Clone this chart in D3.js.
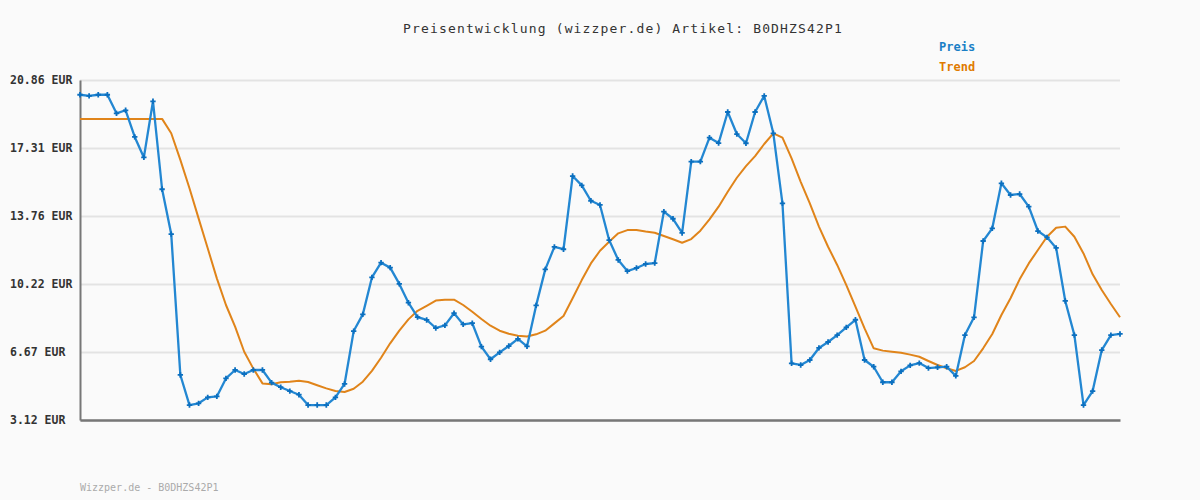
<!DOCTYPE html>
<html>
<head>
<meta charset="utf-8">
<script src="https://cdn.jsdelivr.net/npm/d3@7/dist/d3.min.js"></script>
<style>
  html, body { margin: 0; padding: 0; background: #fafafa; }
  svg { display: block; }
  text { font-family: "DejaVu Sans Mono", monospace; }
</style>
</head>
<body>
<svg id="chart" width="1200" height="500"></svg>
<script>
const title = "Preisentwicklung (wizzper.de) Artikel: B0DHZS42P1";
const footer = "Wizzper.de - B0DHZS42P1";
const seriesNames = ["Preis", "Trend"];
const yTicks = [3.12, 6.67, 10.22, 13.76, 17.31, 20.86];
const yTickLabels = ["3.12 EUR", "6.67 EUR", "10.22 EUR", "13.76 EUR", "17.31 EUR", "20.86 EUR"];

const preis = [
  20.09, 20.03, 20.09, 20.09, 19.12, 19.28, 17.89, 16.82, 19.75, 15.16,
  12.82, 5.47, 3.90, 3.99, 4.30, 4.35, 5.29, 5.73, 5.52, 5.73,
  5.73, 5.07, 4.83, 4.63, 4.44, 3.90, 3.90, 3.90, 4.30, 5.00,
  7.76, 8.63, 10.56, 11.33, 11.07, 10.22, 9.24, 8.49, 8.34, 7.92,
  8.06, 8.69, 8.11, 8.17, 6.95, 6.29, 6.65, 6.98, 7.35, 6.96,
  9.10, 10.98, 12.15, 12.03, 15.85, 15.36, 14.56, 14.34, 12.51, 11.47,
  10.89, 11.05, 11.26, 11.31, 13.99, 13.62, 12.88, 16.60, 16.60, 17.85,
  17.57, 19.19, 18.04, 17.56, 19.19, 20.03, 18.08, 14.42, 6.08, 5.99,
  6.25, 6.88, 7.19, 7.55, 7.95, 8.35, 6.25, 5.90, 5.09, 5.09,
  5.66, 5.97, 6.09, 5.83, 5.87, 5.90, 5.42, 7.55, 8.48, 12.46,
  13.12, 15.47, 14.86, 14.91, 14.25, 12.98, 12.65, 12.10, 9.33, 7.55,
  3.90, 4.63, 6.77, 7.55, 7.61
];

const trend = [
  18.83, 18.83, 18.83, 18.83, 18.83, 18.83, 18.83, 18.83, 18.83, 18.83,
  18.08, 16.69, 15.21, 13.64, 12.08, 10.51, 9.12, 7.99, 6.68, 5.80,
  5.03, 4.99, 5.09, 5.12, 5.17, 5.10, 4.93, 4.77, 4.63, 4.58,
  4.75, 5.12, 5.68, 6.37, 7.12, 7.78, 8.37, 8.82, 9.08, 9.35,
  9.40, 9.40, 9.12, 8.77, 8.39, 8.04, 7.78, 7.62, 7.52, 7.48,
  7.59, 7.78, 8.16, 8.55, 9.47, 10.42, 11.29, 11.95, 12.42, 12.86,
  13.03, 13.03, 12.95, 12.89, 12.72, 12.55, 12.37, 12.56, 13.00, 13.59,
  14.25, 15.03, 15.76, 16.37, 16.89, 17.52, 18.08, 17.85, 16.77, 15.55,
  14.42, 13.21, 12.16, 11.21, 10.16, 9.03, 7.90, 6.86, 6.74, 6.68,
  6.63, 6.53, 6.42, 6.20, 5.99, 5.82, 5.68, 5.87, 6.20, 6.86,
  7.61, 8.60, 9.47, 10.46, 11.29, 11.99, 12.68, 13.15, 13.21, 12.68,
  11.81, 10.72, 9.90, 9.17, 8.48
];

const colors = { preis: "#2387d2", preisMarker: "#0b6fbf", trend: "#e0841a" };

const svg = d3.select("#chart");
const W = 1200, H = 500;
const m = { left: 80, right: 80, top: 80, bottom: 80 };

svg.append("rect").attr("width", W).attr("height", H).attr("fill", "#fafafa");

const x = d3.scaleLinear().domain([0, preis.length - 1]).range([m.left, W - m.right]);
const y = d3.scaleLinear().domain([yTicks[0], yTicks[yTicks.length - 1]]).range([H - m.bottom, m.top]);

// grid
svg.append("g")
  .attr("transform", `translate(${m.left},0)`)
  .call(d3.axisLeft(y).tickValues(yTicks).tickSize(-(W - m.left - m.right)).tickFormat(""))
  .call(g => g.select(".domain").remove())
  .call(g => g.selectAll(".tick line").attr("stroke", "#e3e3e3").attr("stroke-width", 2));

// y labels (left aligned)
svg.append("g").selectAll("text")
  .data(yTicks)
  .join("text")
  .attr("x", 10)
  .attr("y", d => y(d) + 4)
  .attr("font-size", 11.5)
  .attr("font-weight", "bold")
  .attr("fill", "#333")
  .text((d, i) => yTickLabels[i]);

// axes lines
svg.append("g")
  .attr("transform", `translate(0,${H - m.bottom})`)
  .call(d3.axisBottom(x).tickValues([]).tickSizeOuter(0))
  .call(g => g.select(".domain").attr("stroke", "#777").attr("stroke-width", 2.5));
svg.append("g")
  .attr("transform", `translate(${m.left},0)`)
  .call(d3.axisLeft(y).tickValues([]).tickSizeOuter(0))
  .call(g => g.select(".domain").attr("stroke", "#777").attr("stroke-width", 2));

// trend line
const line = d3.line().x((d, i) => x(i)).y(d => y(d));
svg.append("path")
  .datum(trend)
  .attr("fill", "none")
  .attr("stroke", colors.trend)
  .attr("stroke-width", 2)
  .attr("stroke-linejoin", "round")
  .attr("d", line);

// preis line
svg.append("path")
  .datum(preis)
  .attr("fill", "none")
  .attr("stroke", colors.preis)
  .attr("stroke-width", 2.3)
  .attr("stroke-linejoin", "round")
  .attr("d", line);

// markers
svg.append("g").selectAll("path")
  .data(preis)
  .join("path")
  .attr("transform", (d, i) => `translate(${x(i)},${y(d)})`)
  .attr("d", d3.symbol(d3.symbolCross, 16))
  .attr("fill", colors.preisMarker);

// title
svg.append("text")
  .attr("x", 623)
  .attr("y", 33)
  .attr("text-anchor", "middle")
  .attr("font-size", 13)
  .attr("letter-spacing", 1.15)
  .attr("fill", "#333")
  .text(title);

// legend
svg.append("text").attr("x", 939).attr("y", 51).attr("font-size", 12)
  .attr("font-weight", "bold").attr("fill", "#1a7fc6").text(seriesNames[0]);
svg.append("text").attr("x", 939).attr("y", 71).attr("font-size", 12)
  .attr("font-weight", "bold").attr("fill", "#e07b00").text(seriesNames[1]);

// footer
svg.append("text").attr("x", 80).attr("y", 491).attr("font-size", 10)
  .attr("fill", "#aaa").text(footer);
</script>
</body>
</html>
